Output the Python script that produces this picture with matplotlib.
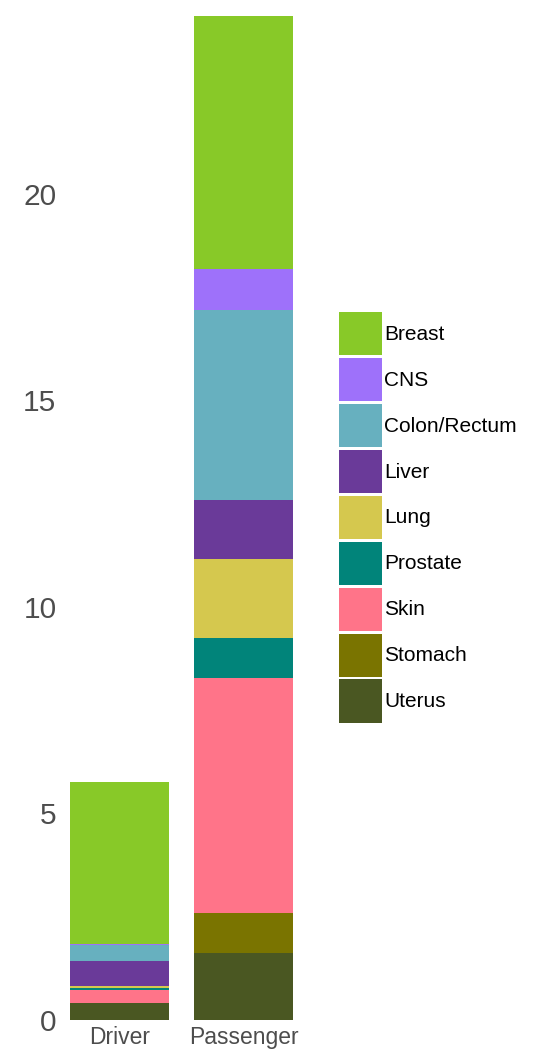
import numpy as np
import matplotlib.pyplot as plt
from matplotlib.patches import Patch

plt.rcParams['font.family'] = ['Liberation Sans', 'DejaVu Sans']

# data
groups = ["Driver", "Passenger"]
sites = ["Breast", "CNS", "Colon/Rectum", "Liver", "Lung",
         "Prostate", "Skin", "Stomach", "Uterus"]
colors = ["#88C928", "#9E71FA", "#67B0BF", "#6A3A99", "#D5C84E",
          "#01847A", "#FF7489", "#7A7400", "#4A5722"]
driver = [3.92, 0.025, 0.39, 0.60, 0.065, 0.05, 0.32, 0.0, 0.40]
passenger = [6.13, 0.99, 4.60, 1.43, 1.91, 0.97, 5.69, 0.97, 1.62]

fig = plt.figure(figsize=(5.34, 10.61), dpi=100)
ax = fig.add_axes([62 / 534, 41 / 1061, 256 / 534, 1010 / 1061])

x = np.arange(len(groups))
vals = np.array([driver, passenger])
# stack from the bottom: Uterus first, Breast last
bottom = np.zeros(len(groups))
for i in reversed(range(len(sites))):
    ax.bar(x, vals[:, i], width=0.8, bottom=bottom, color=colors[i],
           linewidth=0)
    bottom += vals[:, i]

ax.set_xlim(-0.468, 1.6)
ax.set_ylim(0, 24.45)
ax.set_xticks(x)
ax.set_xticklabels(groups, fontsize=16.5, color="#4d4d4d")
ax.set_yticks([0, 5, 10, 15, 20])
ax.set_yticklabels(["0", "5", "10", "15", "20"], fontsize=21.5, color="#4d4d4d")
ax.tick_params(length=0, axis="y", pad=4)
ax.tick_params(length=0, axis="x", pad=4)
for s in ax.spines.values():
    s.set_visible(False)

handles = [Patch(facecolor=c, edgecolor="none", label=n)
           for n, c in zip(sites, colors)]
fig.legend(handles=handles, loc="upper left",
           bbox_to_anchor=(339 / 534, 1 - 312 / 1061),
           frameon=False, fontsize=15, handlelength=2.064, handleheight=2.8,
           labelspacing=0.14, handletextpad=0.1, borderpad=0,
           borderaxespad=0)

fig.savefig("out.png", dpi=100)
